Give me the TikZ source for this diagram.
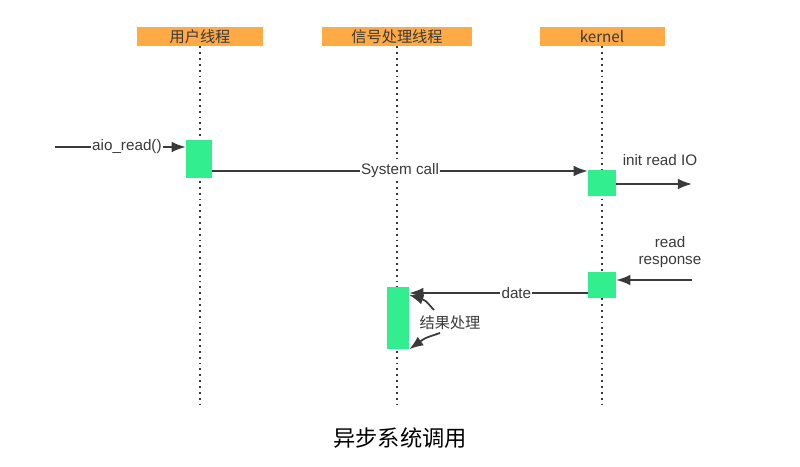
\documentclass[tikz,border=0pt]{standalone}
\usepackage{fontspec}
\setmainfont{Liberation Sans}
\newfontfamily\cjk{Noto Sans CJK SC}
\usetikzlibrary{arrows.meta}
\definecolor{hdr}{HTML}{FFAA44}
\definecolor{act}{HTML}{33EE8E}
\definecolor{ink}{HTML}{3A3A3A}
\newcommand{\mysz}{\fontsize{13}{15}\selectfont}
\begin{document}
\begin{tikzpicture}[x=0.03cm,y=-0.03cm,
  head/.style={fill=hdr,minimum width=3.75cm,minimum height=0.57cm,inner sep=0pt,font=\cjk\mysz,text=ink},
  bar/.style={fill=act,inner sep=0pt},
  life/.style={line width=1.6pt,ink,dash pattern=on 1.6pt off 3.4pt},
  msg/.style={-{Latex[length=12pt,width=9pt]},line width=1.5pt,ink},
  lbl/.style={fill=white,inner sep=1pt,font=\mysz,text=ink}]
\useasboundingbox (0,0) rectangle (800,466);
\node[head] (hu) at (200,36.5) {用户线程};
\node[head,minimum width=4.47cm] (hs) at (397,36.5) {信号处理线程};
\node[head] (hk) at (602,36.5) {kernel};
\coordinate (eu) at (200,405);
\coordinate (es) at (397,405);
\coordinate (ek) at (602,405);
\draw[life] (hu.south) -- (eu);
\draw[life] (hs.south) -- (es);
\draw[life] (hk.south) -- (ek);
\node[bar,minimum width=0.78cm,minimum height=1.14cm] (bu) at (199,159) {};
\node[bar,minimum width=0.84cm,minimum height=0.78cm] (bk1) at (602,183) {};
\node[bar,minimum width=0.84cm,minimum height=0.78cm] (bk2) at (602,285) {};
\node[bar,minimum width=0.66cm,minimum height=1.86cm] (bs) at (398,318) {};
\coordinate (a0) at (55,147);
\coordinate (io) at (692,184);
\coordinate (rr) at (692,280);
\draw[msg] (a0) -- (a0 -| bu.west) node[lbl,pos=0.55] {aio\_read()};
\draw[msg] (bu.east |- 0,171) -- (bk1.west |- 0,171) node[lbl,midway] {System call};
\draw[msg] (bk1.east |- io) -- (io);
\node[font=\mysz,text=ink] (tio) at (660,160) {init read IO};
\draw[msg] (rr) -- (bk2.east |- rr);
\node[font=\mysz,text=ink,align=center,inner sep=0pt] (trr) at (670,252) {read\\response};
\draw[msg] (bk2.west |- 0,293) -- (bs.east |- 0,293) node[lbl,pos=0.4] {date};
\node[font=\cjk\mysz,text=ink] (tjg) at (450,323) {结果处理};
\coordinate (c1) at (434,310);
\coordinate (c2) at (440,333);
\draw[msg] (c1) .. controls (425,300) .. (bs.east |- 0,295);
\draw[msg] (c2) .. controls (425,338) .. (bs.south east);
\node[font=\cjk\fontsize{19}{22}\selectfont] (cap) at (400,438) {异步系统调用};
\end{tikzpicture}
\end{document}
